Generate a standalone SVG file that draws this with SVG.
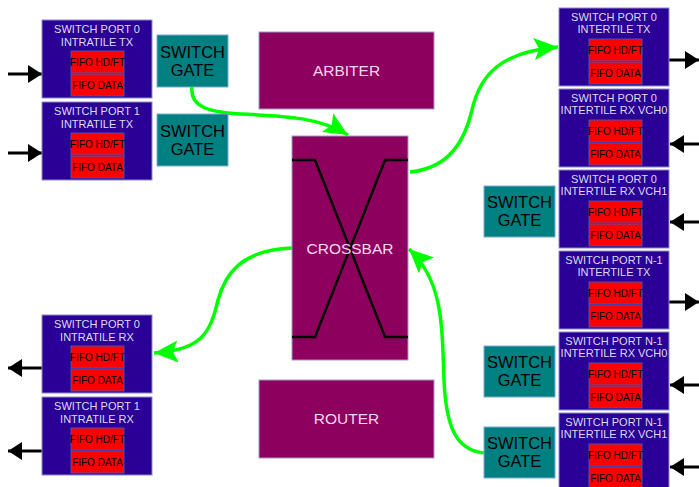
<svg xmlns="http://www.w3.org/2000/svg" width="699" height="487" viewBox="0 0 699 487">
<defs>
<style>
.port{fill:#2a0096;stroke:#8c8cc8;stroke-width:1}
.fifo{fill:#ff0000;stroke:#5050b0;stroke-width:1}
.gate{fill:#008080;stroke:#7aa8d8;stroke-width:1}
.blk{fill:#8e005e;stroke:#9a9ad0;stroke-width:1}
.pt{font-family:"Liberation Sans",Arial,sans-serif;font-size:11px;fill:#dcdcf0;text-anchor:middle}
.ft{font-family:"Liberation Sans",Arial,sans-serif;font-size:10px;fill:#000;text-anchor:middle}
.gt{font-family:"Liberation Sans",Arial,sans-serif;font-size:16.5px;fill:#000;text-anchor:middle}
.bt{font-family:"Liberation Sans",Arial,sans-serif;font-size:15.5px;fill:#f4d8f0;text-anchor:middle}
.green{fill:none;stroke:#00ff00;stroke-width:3.5;marker-end:url(#ga)}
.black{fill:none;stroke:#000;stroke-width:3;marker-end:url(#ba)}
.xl{fill:none;stroke:#000;stroke-width:2.5}
</style>
<marker id="ga" markerUnits="userSpaceOnUse" markerWidth="26" markerHeight="22" refX="24" refY="11" orient="auto" viewBox="0 0 26 22"><path d="M0,0 L24,11 L0,22 L5,11 Z" fill="#00ff00"/></marker>
<marker id="ba" markerUnits="userSpaceOnUse" markerWidth="15" markerHeight="18" refX="14" refY="9" orient="auto" viewBox="0 0 15 18"><path d="M0,0 L14,9 L0,18 Z" fill="#000"/></marker>
<g id="fifo">
<rect class="fifo" x="0" y="0" width="53" height="22"/>
<text class="ft" x="26.5" y="14.5">FIFO HD/FT</text>
<rect class="fifo" x="0" y="23" width="53" height="22"/>
<text class="ft" x="26.5" y="37.5">FIFO DATA</text>
</g>
</defs>
<rect width="699" height="487" fill="#fff"/>

<g id="connectors">
<path class="black" d="M8,74 L42,74"/>
<path class="black" d="M8,153 L42,153"/>
<path class="black" d="M42,368 L8,368"/>
<path class="black" d="M42,451 L8,451"/>
<path class="black" d="M669,60 L699,60"/>
<path class="black" d="M699,144 L670,144"/>
<path class="black" d="M699,222 L670,222"/>
<path class="black" d="M669,302 L699,302"/>
<path class="black" d="M699,385 L670,385"/>
<path class="black" d="M699,467 L670,467"/>
<path class="green" d="M192,87 C190,105 205,112 240,114 C290,116 320,118 348,135"/>
<path class="green" d="M410,172 C450,168 465,140 472,110 C480,75 500,52 558,47"/>
<path class="green" d="M292,248 C240,250 225,275 218,300 C210,335 200,350 154,353"/>
<path class="green" d="M484,453 C455,450 446,425 444,380 C442,320 442,280 409,249"/>
</g>

<g id="sp0_intratile_tx">
<rect class="port" x="42" y="20" width="110" height="78"/>
<text class="pt" x="97" y="33">SWITCH PORT 0</text>
<text class="pt" x="97" y="46">INTRATILE TX</text>
<use href="#fifo" x="71" y="51"/>
</g>
<g id="sp1_intratile_tx">
<rect class="port" x="42" y="102" width="110" height="78"/>
<text class="pt" x="97" y="115">SWITCH PORT 1</text>
<text class="pt" x="97" y="128">INTRATILE TX</text>
<use href="#fifo" x="71" y="133"/>
</g>
<g id="sp0_intratile_rx">
<rect class="port" x="42" y="315" width="110" height="78"/>
<text class="pt" x="97" y="328">SWITCH PORT 0</text>
<text class="pt" x="97" y="341">INTRATILE RX</text>
<use href="#fifo" x="71" y="346"/>
</g>
<g id="sp1_intratile_rx">
<rect class="port" x="42" y="397" width="110" height="78"/>
<text class="pt" x="97" y="410">SWITCH PORT 1</text>
<text class="pt" x="97" y="423">INTRATILE RX</text>
<use href="#fifo" x="71" y="428"/>
</g>

<g id="gate_l0">
<rect class="gate" x="157" y="35" width="71" height="52"/>
<text class="gt" x="192.5" y="58">SWITCH</text>
<text class="gt" x="192.5" y="76">GATE</text>
</g>
<g id="gate_l1">
<rect class="gate" x="157" y="114" width="71" height="52"/>
<text class="gt" x="192.5" y="137">SWITCH</text>
<text class="gt" x="192.5" y="155">GATE</text>
</g>

<g id="arbiter">
<rect class="blk" x="259" y="32" width="175" height="77"/>
<text class="bt" x="346.5" y="76">ARBITER</text>
</g>
<g id="crossbar">
<rect class="blk" x="292" y="136" width="116" height="224"/>
<path class="xl" d="M292,160 L315,160 L385,337 L408,337"/>
<path class="xl" d="M408,160 L385,160 L315,337 L292,337"/>
<text class="bt" x="350" y="254">CROSSBAR</text>
</g>
<g id="router">
<rect class="blk" x="259" y="380" width="175" height="78"/>
<text class="bt" x="346.5" y="424">ROUTER</text>
</g>

<g id="sp0_intertile_tx">
<rect class="port" x="559" y="8" width="110" height="78"/>
<text class="pt" x="614" y="21">SWITCH PORT 0</text>
<text class="pt" x="614" y="33">INTERTILE TX</text>
<use href="#fifo" x="589" y="39"/>
</g>
<g id="sp0_intertile_rx_vch0">
<rect class="port" x="559" y="89" width="110" height="78"/>
<text class="pt" x="614" y="102">SWITCH PORT 0</text>
<text class="pt" x="614" y="114">INTERTILE RX VCH0</text>
<use href="#fifo" x="589" y="120"/>
</g>
<g id="sp0_intertile_rx_vch1">
<rect class="port" x="559" y="170" width="110" height="78"/>
<text class="pt" x="614" y="183">SWITCH PORT 0</text>
<text class="pt" x="614" y="195">INTERTILE RX VCH1</text>
<use href="#fifo" x="589" y="201"/>
</g>
<g id="spn1_intertile_tx">
<rect class="port" x="559" y="251" width="110" height="78"/>
<text class="pt" x="614" y="264">SWITCH PORT N-1</text>
<text class="pt" x="614" y="276">INTERTILE TX</text>
<use href="#fifo" x="589" y="282"/>
</g>
<g id="spn1_intertile_rx_vch0">
<rect class="port" x="559" y="332" width="110" height="78"/>
<text class="pt" x="614" y="345">SWITCH PORT N-1</text>
<text class="pt" x="614" y="357">INTERTILE RX VCH0</text>
<use href="#fifo" x="589" y="363"/>
</g>
<g id="spn1_intertile_rx_vch1">
<rect class="port" x="559" y="413" width="110" height="78"/>
<text class="pt" x="614" y="426">SWITCH PORT N-1</text>
<text class="pt" x="614" y="438">INTERTILE RX VCH1</text>
<use href="#fifo" x="589" y="444"/>
</g>

<g id="gate_r0">
<rect class="gate" x="484" y="186" width="71" height="51"/>
<text class="gt" x="519.5" y="208">SWITCH</text>
<text class="gt" x="519.5" y="226">GATE</text>
</g>
<g id="gate_r1">
<rect class="gate" x="484" y="346" width="71" height="51"/>
<text class="gt" x="519.5" y="368">SWITCH</text>
<text class="gt" x="519.5" y="386">GATE</text>
</g>
<g id="gate_r2">
<rect class="gate" x="484" y="427" width="71" height="51"/>
<text class="gt" x="519.5" y="449">SWITCH</text>
<text class="gt" x="519.5" y="467">GATE</text>
</g>
</svg>
